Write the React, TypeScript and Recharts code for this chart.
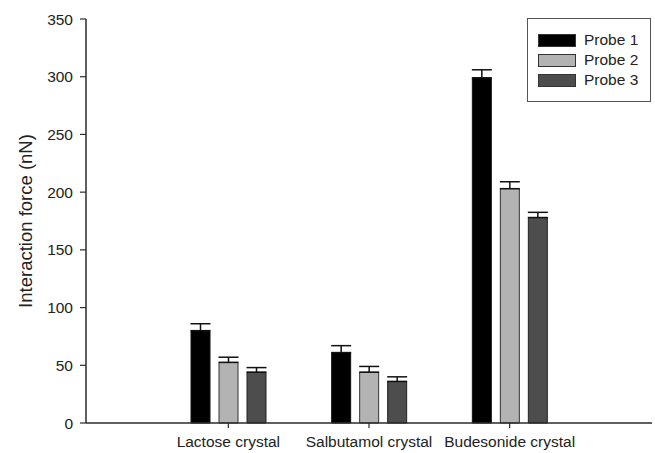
import { BarChart, Bar, XAxis, YAxis, Legend, ErrorBar } from 'recharts';

const categories = ['Lactose crystal', 'Salbutamol crystal', 'Budesonide crystal'];
const probe1 = [80, 61, 299];
const probe2 = [52.5, 44, 203];
const probe3 = [44, 36, 178];
const err1 = [6, 6, 7];
const err2 = [4.5, 5, 6];
const err3 = [4, 4, 4.5];
const yTicks = [0, 50, 100, 150, 200, 250, 300, 350];

const data = categories.map((name, i) => ({
  name,
  p1: probe1[i],
  p2: probe2[i],
  p3: probe3[i],
  e1: [0, err1[i]],
  e2: [0, err2[i]],
  e3: [0, err3[i]],
}));

const font = '"Liberation Sans", Arial, sans-serif';
const axisColor = '#2b2b2b';

function LegendBox(props: any) {
  const items = props.payload || [];
  return (
    <div
      style={{
        border: '1.5px solid #555',
        background: '#fff',
        padding: '11px 0 11px 10px',
        fontFamily: font,
        fontSize: 15.5,
        color: '#222',
        boxSizing: 'border-box',
        width: 124,
      }}
    >
      {items.map((it: any) => (
        <div key={it.value} style={{ display: 'flex', alignItems: 'center', height: 20 }}>
          <span
            style={{
              display: 'inline-block',
              width: 36,
              height: 11,
              background: it.color,
              border: '1px solid #333',
              marginRight: 8,
            }}
          />
          <span>{it.value}</span>
        </div>
      ))}
    </div>
  );
}

export default function App() {
  return (
    <div style={{ position: 'absolute', left: 0, top: 0, background: '#fff' }}>
      <BarChart
        width={655}
        height={453}
        data={data}
        margin={{ top: 19, right: 3, bottom: 0, left: 25 }}
        barSize={19}
        barGap={9}
      >
        <XAxis
          dataKey="name"
          padding={{ left: 72, right: 72 }}
          height={30}
          tickSize={5}
          tickMargin={8}
          axisLine={{ stroke: axisColor, strokeWidth: 1.5 }}
          tickLine={{ stroke: axisColor, strokeWidth: 1.2 }}
          tick={{ fill: '#222', fontSize: 15.5, fontFamily: font }}
          interval={0}
        />
        <YAxis
          domain={[0, 350]}
          ticks={yTicks}
          width={61}
          tickSize={6}
          tickMargin={7}
          axisLine={{ stroke: axisColor, strokeWidth: 1.5 }}
          tickLine={{ stroke: axisColor, strokeWidth: 1.2 }}
          tick={{ fill: '#222', fontSize: 15.5, fontFamily: font }}
          label={{
            value: 'Interaction force (nN)',
            angle: -90,
            position: 'insideLeft',
            offset: 0,
            style: { textAnchor: 'middle', fill: '#222', fontSize: 18.5, fontFamily: font },
          }}
        />
        <Legend
          layout="horizontal"
          verticalAlign="middle"
          align="center"
          wrapperStyle={{ position: 'absolute', left: 527, top: 18, width: 124 }}
          content={<LegendBox />}
        />
        <Bar dataKey="p1" name="Probe 1" fill="#000" stroke="#111" strokeWidth={1} isAnimationActive={false}>
          <ErrorBar dataKey="e1" width={10} stroke="#111" strokeWidth={1.5} direction="y" />
        </Bar>
        <Bar dataKey="p2" name="Probe 2" fill="#b3b3b3" stroke="#333" strokeWidth={1} isAnimationActive={false}>
          <ErrorBar dataKey="e2" width={10} stroke="#111" strokeWidth={1.5} direction="y" />
        </Bar>
        <Bar dataKey="p3" name="Probe 3" fill="#4d4d4d" stroke="#222" strokeWidth={1} isAnimationActive={false}>
          <ErrorBar dataKey="e3" width={10} stroke="#111" strokeWidth={1.5} direction="y" />
        </Bar>
      </BarChart>
    </div>
  );
}
